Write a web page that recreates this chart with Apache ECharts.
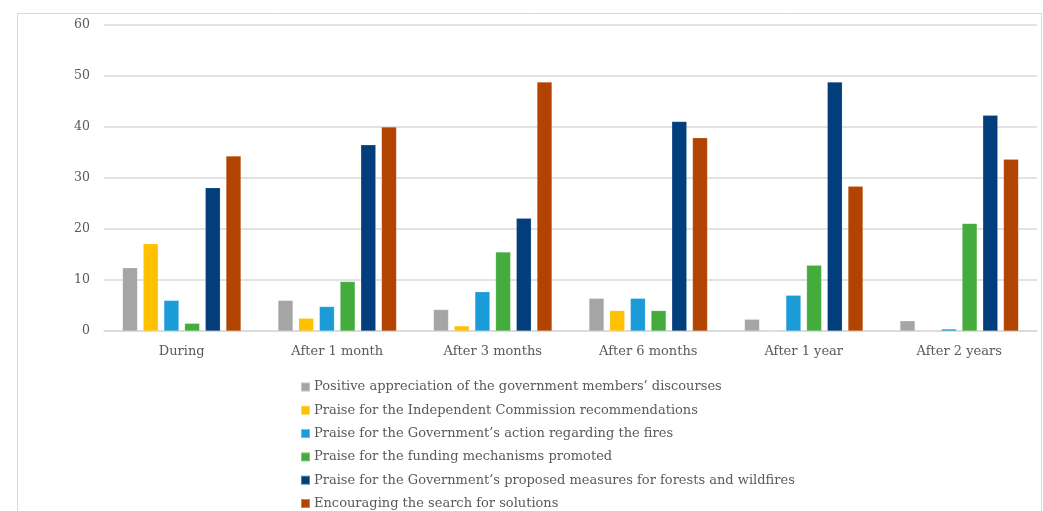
<!DOCTYPE html>
<html>
<head>
<meta charset="utf-8">
<script src="https://cdn.jsdelivr.net/npm/echarts@6/dist/echarts.min.js"></script>
<style>
  html, body { margin: 0; padding: 0; background: #ffffff; }
  #chart { width: 1043px; height: 511px; }
</style>
</head>
<body>
<div id="chart"></div>
<script>
// Time periods after the wildfires
const categories = ['During', 'After 1 month', 'After 3 months', 'After 6 months', 'After 1 year', 'After 2 years'];

// Share (%) of each discourse type per period
const positiveAppreciation = [12.4, 6.0, 4.2, 6.4, 2.3, 2.0];
const praiseCommission     = [17.1, 2.5, 1.0, 4.0, 0, 0];
const praiseGovAction      = [6.0, 4.8, 7.7, 6.4, 7.0, 0.4];
const praiseFunding        = [1.5, 9.7, 15.5, 4.0, 12.9, 21.1];
const praiseGovMeasures    = [28.1, 36.5, 22.1, 41.1, 48.8, 42.3];
const encouragingSolutions = [34.3, 40.0, 48.8, 37.9, 28.4, 33.7];

const yTicks = { min: 0, max: 60, interval: 10 };

const seriesNames = [
  'Positive appreciation of the government members\u2019 discourses',
  'Praise for the Independent Commission recommendations',
  'Praise for the Government\u2019s action regarding the fires',
  'Praise for the funding mechanisms promoted',
  'Praise for the Government\u2019s proposed measures for forests and wildfires',
  'Encouraging the search for solutions'
];
const seriesData = [positiveAppreciation, praiseCommission, praiseGovAction, praiseFunding, praiseGovMeasures, encouragingSolutions];
const colors = ['#a5a5a5', '#ffc000', '#1b9bd7', '#44ac3c', '#033e7c', '#b24300'];

const fontFamily = '"DejaVu Serif", "Liberation Serif", serif';
const textColor = '#595959';

const chart = echarts.init(document.getElementById('chart'), null, { renderer: 'canvas' });

chart.setOption({
  animation: false,
  backgroundColor: '#ffffff',
  color: colors,
  textStyle: { fontFamily: fontFamily },
  graphic: [{
    type: 'rect',
    left: 15, top: 11,
    shape: { width: 1024, height: 520 },
    style: { fill: 'none', stroke: '#d9d9d9', lineWidth: 1 },
    z: -1
  }],
  grid: { left: 104, right: 6, top: 25, height: 306 },
  legend: {
    orient: 'vertical',
    left: 300,
    top: 379,
    height: 220,
    padding: 0,
    itemWidth: 9,
    itemHeight: 9,
    itemGap: 7.3,
    icon: 'rect',
    textStyle: { fontFamily: fontFamily, fontSize: 13, color: textColor, lineHeight: 16, padding: [0, 0, 0, -1] },
    data: seriesNames
  },
  xAxis: {
    type: 'category',
    data: categories,
    axisLine: { lineStyle: { color: '#d9d9d9', width: 1.5 } },
    axisTick: { show: false },
    axisLabel: { fontFamily: fontFamily, fontSize: 13, color: textColor, margin: 14 }
  },
  yAxis: {
    type: 'value',
    min: yTicks.min,
    max: yTicks.max,
    interval: yTicks.interval,
    axisLine: { show: false },
    axisTick: { show: false },
    splitLine: { lineStyle: { color: '#d9d9d9', width: 1.5 } },
    axisLabel: { fontFamily: fontFamily, fontSize: 12.5, color: textColor, margin: 14 }
  },
  series: seriesNames.map((name, i) => ({
    name: name,
    type: 'bar',
    data: seriesData[i],
    barWidth: 15,
    barGap: '38%',
    itemStyle: { borderColor: 'rgba(255,255,255,0.35)', borderWidth: 0.5 }
  }))
});
</script>
</body>
</html>
